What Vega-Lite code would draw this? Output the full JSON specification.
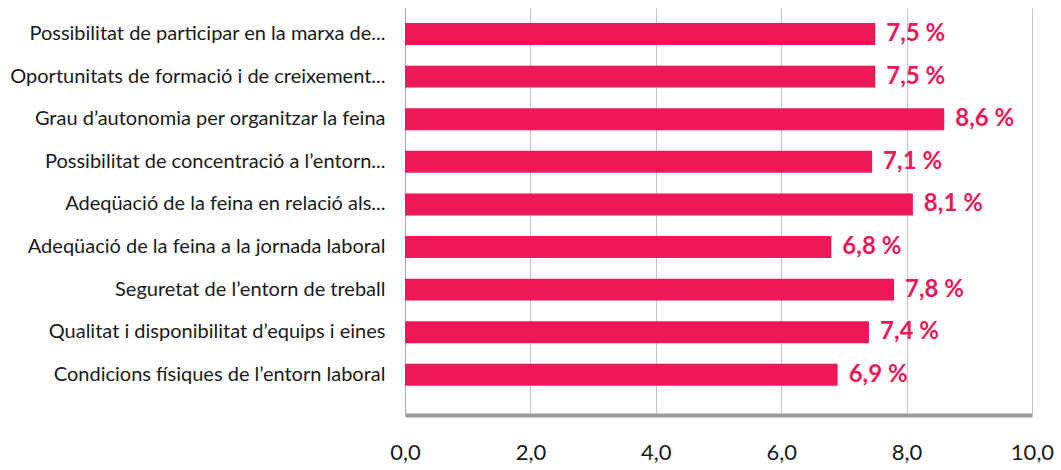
{
  "$schema": "https://vega.github.io/schema/vega-lite/v6.json",
  "autosize": "none",
  "width": 627,
  "height": 407,
  "padding": {"left": 405, "top": 8, "right": 29, "bottom": 55},
  "background": "white",
  "config": {"view": {"stroke": null}, "font": "Lato"},
  "data": {"values": [
    {"cat": "Possibilitat de participar en la marxa de...", "v": 7.5, "lbl": "7,5 %"},
    {"cat": "Oportunitats de formació i de creixement...", "v": 7.5, "lbl": "7,5 %"},
    {"cat": "Grau d’autonomia per organitzar la feina", "v": 8.6, "lbl": "8,6 %"},
    {"cat": "Possibilitat de concentració a l’entorn...", "v": 7.45, "lbl": "7,1 %"},
    {"cat": "Adeqüació de la feina en relació als...", "v": 8.1, "lbl": "8,1 %"},
    {"cat": "Adeqüació de la feina a la jornada laboral", "v": 6.8, "lbl": "6,8 %"},
    {"cat": "Seguretat de l’entorn de treball", "v": 7.8, "lbl": "7,8 %"},
    {"cat": "Qualitat i disponibilitat d’equips i eines", "v": 7.4, "lbl": "7,4 %"},
    {"cat": "Condicions físiques  de l’entorn laboral", "v": 6.9, "lbl": "6,9 %"}
  ]},
  "encoding": {
    "y": {
      "field": "cat", "type": "nominal", "sort": null, "title": null,
      "scale": {"paddingInner": 0.484, "paddingOuter": 0.519, "align": 0.34},
      "axis": {"domainColor": "#aaaaaa", "domainWidth": 1, "ticks": false, "labelPadding": 20,
               "labelFontSize": 20, "labelColor": "#1a1a1a", "labelLimit": 0, "grid": false}
    },
    "x": {
      "field": "v", "type": "quantitative", "title": null,
      "scale": {"domain": [0, 10], "nice": false},
      "axis": {"values": [0, 2, 4, 6, 8, 10], "labelExpr": "replace(format(datum.value, '.1f'), '.', ',')",
               "domainColor": "#9a9a9a", "domainWidth": 4, "ticks": false, "labelPadding": 27,
               "labelFontSize": 22, "labelColor": "#1a1a1a", "grid": true, "gridColor": "#c4c4c4",
               "gridWidth": 1, "labelFlush": false}
    }
  },
  "layer": [
    {"mark": {"type": "bar", "color": "#EE1758"}},
    {"mark": {"type": "text", "align": "left", "baseline": "middle", "dx": 11, "fontSize": 24,
              "fontWeight": "bold", "color": "#EE1758"},
     "encoding": {"text": {"field": "lbl"}}}
  ]
}
